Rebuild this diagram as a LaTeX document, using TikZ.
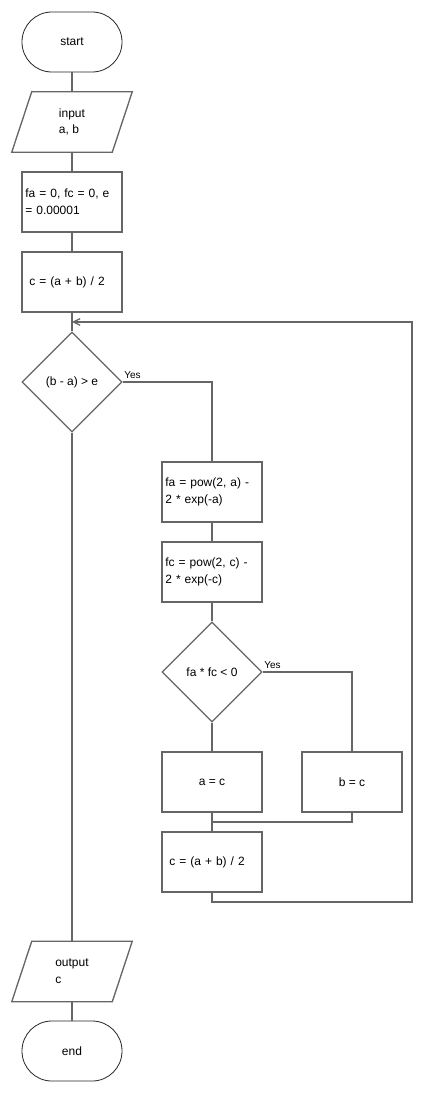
\documentclass[tikz,border=0pt]{standalone}
\usepackage{fontspec}
\setmainfont{Liberation Sans}
\usetikzlibrary{shapes.geometric,arrows.meta}
\definecolor{edge}{RGB}{102,102,102}
\begin{document}
\begin{tikzpicture}[x=0.75pt,y=-0.75pt,
  font=\fontsize{9}{12.5}\selectfont,
  every node/.style={inner sep=0pt},
  term/.style={draw=black!85, line width=0.6pt, rounded corners=22.4pt, minimum width=75pt, minimum height=45pt},
  proc/.style={draw=edge, line width=1pt, minimum width=75pt, minimum height=45pt},
  io/.style={minimum width=75pt, minimum height=45pt},
  dec/.style={draw=edge, line width=1pt, diamond, aspect=1, minimum width=75pt, minimum height=75pt},
  flow/.style={draw=edge, line width=1pt},
  yes/.style={font=\fontsize{7.5}{9}\selectfont, anchor=south west, inner sep=1pt}
]
\fill[white] (0,0) rectangle (424,1094);
\useasboundingbox (0,0) rectangle (424,1094);

% main column
\node[term] (start) at (72,42) {start};
\node[io, align=left] (in) at (72,122) {input\\a, b};
\node[proc, text width=70pt, align=left] (init) at (72,202) {fa = 0, fc = 0, e\\= 0.00001};
\node[proc, text width=64pt, align=left] (mid0) at (72,282) {c = (a + b) / 2};
\node[dec] (d1) at (72,382) {(b - a) > e};

% loop body
\node[proc, text width=70pt, align=left] (fa) at (212,492) {fa = pow(2, a) -\\2 * exp(-a)};
\node[proc, text width=70pt, align=left] (fc) at (212,572) {fc = pow(2, c) -\\2 * exp(-c)};
\node[dec] (d2) at (212,672) {fa * fc < 0};
\node[proc] (seta) at (212,782) {a = c};
\node[proc] (setb) at (352,782) {b = c};
\node[proc, text width=64pt, align=left] (mid1) at (212,862) {c = (a + b) / 2};

% exit
\node[io, align=left] (out) at (72,971.5) {output\\c};
\node[term] (stop) at (72,1051) {end};

% parallelogram outlines of the input/output nodes
\foreach \n in {in,out}{
  \draw[flow] ([xshift=7.5pt]\n.north west) -- ([xshift=7.5pt]\n.north east)
    -- ([xshift=-7.5pt]\n.south east) -- ([xshift=-7.5pt]\n.south west) -- cycle;
}

% branch labels
\node[yes] (y1) at ([yshift=1.5pt]d1.east) {Yes};
\node[yes] (y2) at ([yshift=1.5pt]d2.east) {Yes};

% helper points for the loop
\coordinate (merge) at (212,822);
\coordinate (loopSE) at (412,902);
\coordinate (loopNE) at (412,322);
\coordinate (entry) at (72,322);

% connectors
\draw[flow] (start) -- (in);
\draw[flow] (in) -- (init);
\draw[flow] (init) -- (mid0);
\draw[flow] (mid0) -- (d1);
\draw[flow] (d1.east) -| (fa.north);
\draw[flow] (fa) -- (fc);
\draw[flow] (fc) -- (d2);
\draw[flow] (d2.east) -| (setb.north);
\draw[flow] (d2.south) -- (seta.north);
\draw[flow] (seta) -- (mid1);
\draw[flow] (setb.south) |- (merge);
\draw[flow, -{Straight Barb[length=5pt,width=5pt]}] (mid1.south) |- (loopSE) -- (loopNE) -- (entry);
\draw[flow] (d1.south) -- (out.north);
\draw[flow] (out) -- (stop);
\end{tikzpicture}
\end{document}
